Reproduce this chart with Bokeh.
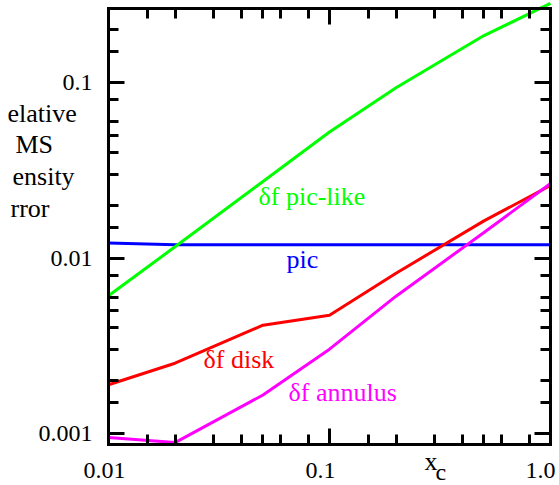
from bokeh.plotting import figure
from bokeh.models import LogAxis, FixedTicker, Label, Range1d
from bokeh.embed import file_html
from bokeh.resources import INLINE

# ---- data ----
x_c = [0.01, 0.02, 0.05, 0.1, 0.2, 0.5, 1.0]
pic = [0.0122, 0.0119, 0.0119, 0.0119, 0.0119, 0.0119, 0.0119]
pic_like = [0.0061, 0.0116, 0.0273, 0.0522, 0.0933, 0.185, 0.282]
disk = [0.0019, 0.00252, 0.00415, 0.00473, 0.0082, 0.0163, 0.0259]
annulus = [0.00095, 0.00089, 0.00166, 0.00303, 0.00607, 0.0140, 0.0266]

x_ticks = [0.01, 0.1, 1.0]
x_tick_labels = ["0.01", "0.1", "1.0"]
x_minor = [0.015, 0.02, 0.03, 0.04, 0.05, 0.06, 0.08,
           0.15, 0.2, 0.3, 0.4, 0.5, 0.6, 0.8]
y_ticks = [0.001, 0.01, 0.1]
y_tick_labels = ["0.001", "0.01", "0.1"]
y_minor = [0.0015, 0.002, 0.003, 0.004, 0.005, 0.006, 0.008,
           0.015, 0.02, 0.03, 0.04, 0.05, 0.06, 0.08,
           0.15, 0.2]

FONT = "Liberation Serif"
W, H = 559, 485

# ---- layout geometry (pixels) ----
# the Bokeh frame fills the canvas; the boxed axes sit inside it
X_PX_001, X_DEC = 108.0, 221.0      # pixel of x=0.01, pixels per decade
Y_PX_0001, Y_DEC = 433.2, 175.6     # pixel of y=0.001, pixels per decade
BOX_L, BOX_R, BOX_T, BOX_B = 108, 550, 8, 444
FIX26, FIX24 = 9, 7                 # baseline correction for label placement

def xd(px):
    return 10 ** (-2 + (px - X_PX_001) / X_DEC)

def yd(py):
    return 10 ** (-3 + (Y_PX_0001 - py) / Y_DEC)

p = figure(width=W, height=H, x_axis_type="log", y_axis_type="log",
           x_range=Range1d(xd(0), xd(W)), y_range=Range1d(yd(H), yd(0)),
           output_backend="svg", toolbar_location=None, min_border=0)
p.title.visible = False
p.grid.visible = False
p.outline_line_color = None
p.background_fill_color = "white"
p.border_fill_color = "white"

p.add_layout(LogAxis(), "right")
p.add_layout(LogAxis(), "above")

x_bounds = (xd(BOX_L), xd(BOX_R))
y_bounds = (yd(BOX_B), yd(BOX_T))

def style(ax, ticks, minor, labels, loc, bounds):
    ax.fixed_location = loc
    ax.bounds = bounds
    ax.ticker = FixedTicker(ticks=ticks, minor_ticks=minor)
    ax.axis_line_width = 3
    ax.axis_line_color = "black"
    ax.axis_line_cap = "square"
    ax.major_tick_line_width = 3
    ax.minor_tick_line_width = 3
    ax.major_tick_in = 16
    ax.major_tick_out = 0
    ax.minor_tick_in = 10
    ax.minor_tick_out = 0
    ax.major_label_text_font = FONT
    ax.major_label_text_color = "black"
    ax.major_label_text_font_size = "24px"
    if labels is None:
        ax.major_label_overrides = {t: "" for t in ticks}
        ax.major_label_standoff = 0
    else:
        ax.major_label_overrides = labels

for ax in p.left:
    style(ax, y_ticks, y_minor, {v: s for v, s in zip(y_ticks, y_tick_labels)},
          x_bounds[0], y_bounds)
    ax.major_label_standoff = 16
for ax in p.right:
    style(ax, y_ticks, y_minor, None, x_bounds[1], y_bounds)
for ax in p.below:
    style(ax, x_ticks, x_minor, None, y_bounds[0], x_bounds)
for ax in p.above:
    style(ax, x_ticks, x_minor, None, y_bounds[1], x_bounds)

# x tick labels, placed by the x scale (nudged left as in the reference)
x_label_nudge = [-4, -9, -10]
for t, s, dx in zip(x_ticks, x_tick_labels, x_label_nudge):
    p.add_layout(Label(x=t, y=yd(477 - FIX24), x_offset=dx, text=s, text_font=FONT,
                       text_font_size="24px", text_color="black",
                       text_align="center", text_baseline="alphabetic"))

# ---- series ----
p.line(x_c, pic, line_color="#0000ff", line_width=3)
p.line(x_c, pic_like, line_color="#00ff00", line_width=3)
p.line(x_c, disk, line_color="#ff0000", line_width=3)
p.line(x_c, annulus, line_color="#ff00ff", line_width=3)

# ---- in-plot series labels ----
series_labels = [
    ("\u03b4f pic-like", 258, 205, "#00ff00"),
    ("pic", 286, 268, "#0000ff"),
    ("\u03b4f disk", 203, 368, "#ff0000"),
    ("\u03b4f annulus", 288, 401, "#ff00ff"),
]
for txt, lx, base, col in series_labels:
    p.add_layout(Label(x=xd(lx), y=yd(base - FIX26), text=txt, text_color=col,
                       text_font=FONT, text_font_size="26px",
                       text_align="left", text_baseline="alphabetic"))

# ---- axis titles (as they appear in the reference, clipped at the left) ----
y_title = [("elative", 7, 122), ("MS", 15, 153), ("ensity", 12, 185), ("rror", 10, 217)]
for txt, lx, base in y_title:
    p.add_layout(Label(x=xd(lx), y=yd(base - FIX26), text=txt, text_font=FONT,
                       text_font_size="26px", text_color="black",
                       text_align="left", text_baseline="alphabetic"))

p.add_layout(Label(x=xd(424), y=yd(470 - FIX26), text="x", text_font=FONT,
                   text_font_size="26px", text_color="black",
                   text_align="left", text_baseline="alphabetic"))
p.add_layout(Label(x=xd(435), y=yd(478 - FIX24), text="c", text_font=FONT,
                   text_font_size="24px", text_color="black",
                   text_align="left", text_baseline="alphabetic"))

open("out.html", "w").write(file_html(p, INLINE))
